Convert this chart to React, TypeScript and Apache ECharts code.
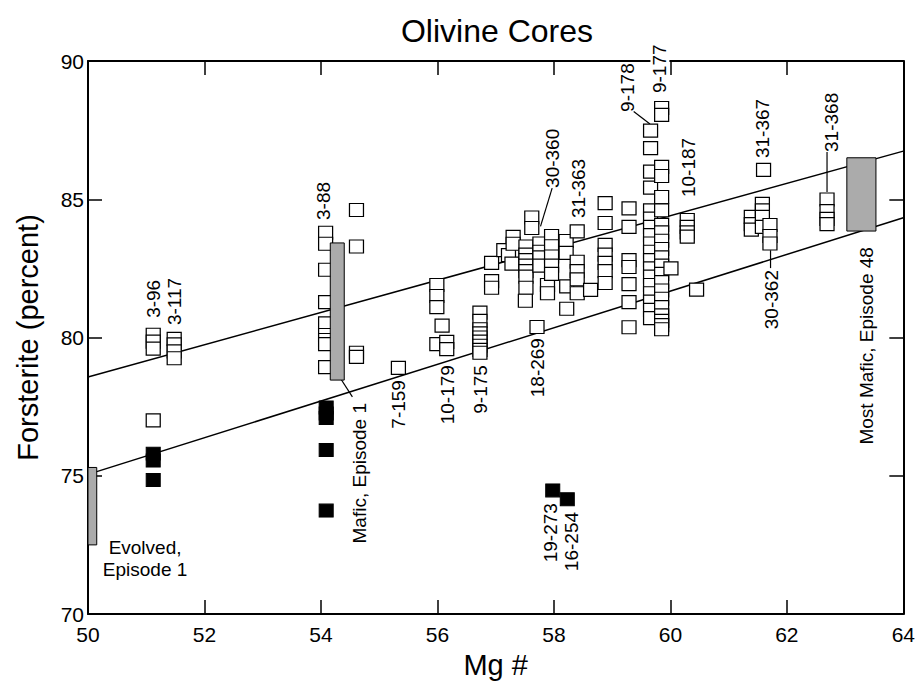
import React, { useEffect, useRef } from "react";
import * as echarts from "echarts";

const FONT = "'Liberation Sans', Arial, Helvetica, sans-serif";

// Axis ticks
const xTicks = { min: 50, max: 64, interval: 2 };
const yTicks = { min: 70, max: 90, interval: 5 };

// Open squares: olivine core compositions [Mg #, Fo %]
const openCores: [number, number][] = [
  // 3-96, 3-117
  [51.12, 80.1], [51.12, 79.85], [51.12, 79.6],
  [51.48, 79.95], [51.48, 79.75], [51.48, 79.5], [51.48, 79.25],
  [51.12, 77.0],
  // 3-88
  [54.08, 83.79], [54.08, 83.39], [54.08, 82.45], [54.08, 81.28], [54.08, 80.51],
  [54.08, 80.09], [54.08, 79.91], [54.08, 79.76], [54.08, 78.93],
  [54.61, 84.61], [54.61, 83.29], [54.61, 79.45], [54.61, 79.3],
  // 7-159
  [55.33, 78.9],
  // 10-179
  [55.99, 81.9], [55.99, 81.5], [55.99, 81.1], [56.08, 80.43], [55.99, 79.76],
  [56.16, 79.84], [56.16, 79.58],
  // 9-175
  [56.73, 80.9], [56.73, 80.6], [56.73, 80.3], [56.73, 80.15], [56.73, 80.0],
  [56.73, 79.85], [56.73, 79.7], [56.73, 79.55], [56.73, 79.45],
  [56.93, 82.7], [56.93, 82.04], [56.93, 81.8],
  // 18-269
  [57.71, 80.38],
  // central cluster (30-360, 31-363)
  [57.14, 83.16], [57.22, 82.98], [57.3, 83.64], [57.3, 83.39], [57.28, 82.67],
  [57.52, 83.29], [57.52, 83.0], [57.52, 82.8], [57.52, 82.6], [57.52, 82.4],
  [57.52, 82.2], [57.52, 81.8], [57.51, 81.33],
  [57.62, 84.34], [57.62, 83.96],
  [57.76, 83.4], [57.76, 83.1], [57.76, 82.9], [57.76, 82.6],
  [57.89, 81.9], [57.89, 81.6],
  [57.96, 83.67], [57.96, 83.3], [57.96, 82.93], [57.96, 82.6], [57.96, 82.3],
  [58.21, 83.49], [58.21, 83.06], [58.22, 81.85], [58.22, 81.04],
  [58.4, 83.84], [58.4, 82.74], [58.4, 82.4], [58.4, 82.1], [58.4, 81.6],
  [58.63, 81.72],
  [58.88, 84.86], [58.88, 84.14], [58.88, 83.35], [58.88, 83.0], [58.88, 82.7],
  [58.88, 82.4], [58.88, 81.97],
  [59.29, 84.67], [59.29, 84.0], [59.29, 82.8], [59.29, 82.55], [59.29, 81.93],
  [59.29, 81.28], [59.29, 80.37],
  // 9-178 column
  [59.66, 87.48], [59.66, 86.85], [59.66, 86.0], [59.66, 85.42], [59.66, 84.6],
  [59.66, 84.3], [59.66, 84.0], [59.66, 83.7], [59.66, 83.4], [59.66, 83.1],
  [59.66, 82.8], [59.66, 82.5], [59.66, 82.2], [59.66, 81.9], [59.66, 81.6],
  [59.66, 81.3], [59.66, 81.0], [59.66, 80.7],
  // 9-177 column
  [59.85, 88.3], [59.85, 88.05], [59.85, 86.17], [59.85, 85.84], [59.85, 85.08],
  [59.85, 84.6], [59.85, 84.07], [59.85, 83.8], [59.85, 83.5], [59.85, 83.2],
  [59.85, 82.9], [59.85, 82.6], [59.85, 82.3], [59.85, 82.0], [59.85, 81.7],
  [59.85, 81.4], [59.85, 81.1], [59.85, 80.8], [59.85, 80.6], [59.85, 80.45],
  [59.85, 80.3],
  [60.01, 82.5], [60.45, 81.73],
  // 10-187
  [60.29, 84.25], [60.29, 84.0], [60.29, 83.8], [60.29, 83.65],
  // 31-367, 30-362
  [61.6, 86.06],
  [61.39, 84.36], [61.39, 84.1], [61.39, 83.9],
  [61.58, 84.83], [61.58, 84.6], [61.58, 84.36], [61.58, 84.0],
  [61.71, 84.07], [61.71, 83.67], [61.71, 83.4],
  // 31-368
  [62.69, 84.99], [62.69, 84.57], [62.69, 84.29], [62.69, 84.1],
];

// Filled squares
const filledCores: [number, number][] = [
  [51.12, 75.8], [51.12, 75.55], [51.12, 74.85],
  [54.09, 77.47], [54.09, 77.25], [54.09, 77.09], [54.09, 75.93], [54.09, 73.74],
  [57.98, 74.47], [58.23, 74.15],
];

// Bounding trend lines
const upperTrend: [number, number][] = [[50, 78.57], [64, 86.74]];
const lowerTrend: [number, number][] = [[50, 75.05], [64, 84.33]];

// Shaded ranges [Mg from, Mg to, Fo from, Fo to]
const shadedRanges: [number, number, number, number][] = [
  [50.0, 50.15, 72.5, 75.3],
  [54.16, 54.4, 78.46, 83.42],
  [63.03, 63.53, 83.85, 86.5],
];

// Sample labels: text, Mg #, Fo (end of text nearest its mark), direction
const sampleLabels: [string, number, number, "up" | "down"][] = [
  ["3-96", 51.12, 80.71, "up"],
  ["3-117", 51.49, 80.45, "up"],
  ["3-88", 54.05, 84.25, "up"],
  ["7-159", 55.34, 78.46, "down"],
  ["10-179", 56.18, 79.0, "down"],
  ["9-175", 56.74, 79.0, "down"],
  ["18-269", 57.72, 79.98, "down"],
  ["19-273", 57.95, 74.01, "down"],
  ["16-254", 58.3, 73.69, "down"],
  ["30-360", 57.97, 85.41, "up"],
  ["31-363", 58.42, 84.32, "up"],
  ["9-178", 59.26, 88.16, "up"],
  ["9-177", 59.82, 88.84, "up"],
  ["10-187", 60.31, 85.08, "up"],
  ["31-367", 61.59, 86.49, "up"],
  ["31-368", 62.76, 86.71, "up"],
  ["30-362", 61.73, 82.44, "down"],
  ["Mafic, Episode 1", 54.66, 77.63, "down"],
  ["Most Mafic, Episode 48", 63.37, 83.27, "down"],
];

// Leader lines from labels to their marks
const leaders: [number, number, number, number][] = [
  [57.97, 85.4, 57.77, 84.02],
  [59.37, 88.17, 59.65, 87.72],
  [62.69, 86.71, 62.69, 85.26],
  [61.72, 83.16, 61.72, 82.51],
  [54.32, 78.57, 54.54, 77.85],
];

const evolvedLabel = { text: "Evolved,\nEpisode 1", mg: 50.98, fo: 72.8 };

export default function App() {
  const ref = useRef<HTMLDivElement>(null);

  useEffect(() => {
    document.body.style.margin = "0";
    if (!ref.current) return;
    const chart = echarts.init(ref.current, null, { renderer: "svg" });

    const axisLine = { show: true, lineStyle: { color: "#000", width: 2 } };
    const axisTick = { show: true, inside: true, length: 14, lineStyle: { color: "#000", width: 1.5 } };
    const labelStyle = { color: "#000", fontFamily: FONT, fontSize: 21 };
    const annot = { color: "#000", fontFamily: FONT, fontSize: 19 };

    const option: echarts.EChartsOption = {
      animation: false,
      backgroundColor: "#fff",
      grid: { left: 88, right: 12, top: 61, bottom: 70 },
      graphic: [
        {
          type: "text",
          x: 497,
          y: 31,
          style: {
            text: "Olivine Cores",
            align: "center",
            verticalAlign: "middle",
            font: `32px ${FONT}`,
            fill: "#000",
          },
        },
      ],
      xAxis: [
        {
          type: "value",
          ...xTicks,
          name: "Mg #",
          nameLocation: "middle",
          nameGap: 36,
          nameTextStyle: { color: "#000", fontFamily: FONT, fontSize: 29 },
          axisLine,
          axisTick,
          splitLine: { show: false },
          axisLabel: { ...labelStyle, margin: 10 },
        },
        {
          type: "value",
          position: "top",
          ...xTicks,
          axisLine,
          axisTick,
          splitLine: { show: false },
          axisLabel: { show: false },
        },
      ],
      yAxis: [
        {
          type: "value",
          ...yTicks,
          name: "Forsterite (percent)",
          nameLocation: "middle",
          nameGap: 46,
          nameTextStyle: { color: "#000", fontFamily: FONT, fontSize: 29 },
          axisLine,
          axisTick,
          splitLine: { show: false },
          axisLabel: { ...labelStyle, margin: 4 },
        },
        {
          type: "value",
          position: "right",
          ...yTicks,
          axisLine,
          axisTick,
          splitLine: { show: false },
          axisLabel: { show: false },
        },
      ],
      series: [
        {
          type: "line",
          data: upperTrend,
          symbol: "none",
          lineStyle: { color: "#000", width: 1.5 },
          z: 1,
        },
        {
          type: "line",
          data: lowerTrend,
          symbol: "none",
          lineStyle: { color: "#000", width: 1.5 },
          z: 1,
        },
        ...leaders.map(([x1, y1, x2, y2]) => ({
          type: "line" as const,
          data: [[x1, y1], [x2, y2]],
          symbol: "none",
          lineStyle: { color: "#000", width: 1.2 },
          z: 1,
        })),
        {
          type: "scatter",
          data: openCores,
          symbol: "rect",
          symbolSize: [14, 13],
          itemStyle: { color: "#fff", borderColor: "#000", borderWidth: 1.2, opacity: 1 },
          z: 3,
        },
        {
          type: "scatter",
          data: filledCores,
          symbol: "rect",
          symbolSize: [14, 13],
          itemStyle: { color: "#000", borderColor: "#000", borderWidth: 1, opacity: 1 },
          z: 3,
        },
        {
          type: "custom",
          data: shadedRanges,
          z: 4,
          renderItem: (_params: any, api: any) => {
            const p0 = api.coord([api.value(0), api.value(3)]);
            const p1 = api.coord([api.value(1), api.value(2)]);
            return {
              type: "rect",
              shape: { x: p0[0], y: p0[1], width: p1[0] - p0[0], height: p1[1] - p0[1] },
              style: { fill: "#ababab", stroke: "#000", lineWidth: 1 },
            };
          },
        },
        {
          type: "scatter",
          data: sampleLabels.map(([text, mg, fo, dir]) => ({
            value: [mg, fo],
            label: {
              show: true,
              formatter: text,
              position: "inside",
              rotate: 90,
              align: dir === "up" ? "left" : "right",
              verticalAlign: "middle",
              ...annot,
              backgroundColor: text === "9-177" ? "#fff" : "transparent",
            },
          })),
          symbolSize: 0,
          itemStyle: { opacity: 1 },
          z: 5,
          silent: true,
        },
        {
          type: "scatter",
          data: [
            {
              value: [evolvedLabel.mg, evolvedLabel.fo],
              label: {
                show: true,
                formatter: evolvedLabel.text,
                position: "inside",
                align: "center",
                verticalAlign: "top",
                ...annot,
                lineHeight: 22,
              },
            },
          ],
          symbolSize: 0,
          itemStyle: { opacity: 1 },
          z: 5,
          silent: true,
        },
      ],
    };

    chart.setOption(option);
    return () => chart.dispose();
  }, []);

  return <div ref={ref} style={{ width: 918, height: 684 }} />;
}
